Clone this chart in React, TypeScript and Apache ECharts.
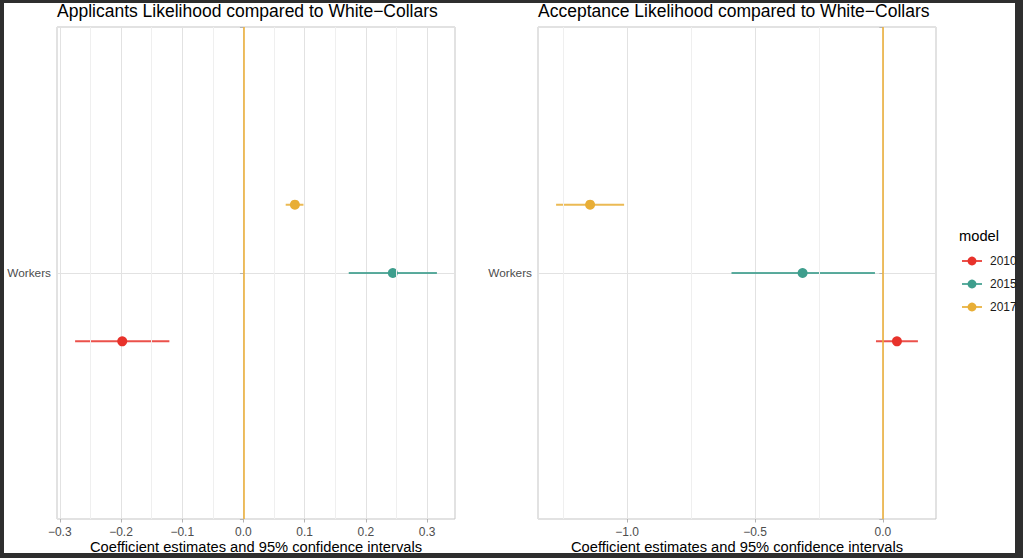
import React, { useEffect, useRef } from 'react';
import * as echarts from 'echarts';

const MODELS = ['2010', '2015', '2017'];
const POINT_COLORS = ['#E8322B', '#3E9E8D', '#E8AE36'];
const CATEGORY = 'Workers';

// Applicants panel: estimates and 95% CI bounds per model
const APP_EST = [-0.198, 0.244, 0.084];
const APP_LO = [-0.275, 0.172, 0.069];
const APP_HI = [-0.121, 0.316, 0.098];

// Acceptance panel
const ACC_EST = [0.055, -0.314, -1.145];
const ACC_LO = [-0.027, -0.592, -1.278];
const ACC_HI = [0.137, -0.031, -1.012];

// minor grid breaks
const APP_MINOR = [-0.25, -0.15, -0.05, 0.05, 0.15, 0.25];
const ACC_MINOR = [-1.25, -0.75, -0.25];

const TITLES = [
  'Applicants Likelihood compared to White\u2212Collars',
  'Acceptance Likelihood compared to White\u2212Collars',
];
const X_TITLE = 'Coefficient estimates and 95% confidence intervals';
const LEGEND_TITLE = 'model';

const FONT = '"Liberation Sans", Arial, Helvetica, sans-serif';
const DODGE = 0.5;
const Y_CENTER = 0.6;

function expand(lo: number[], hi: number[]) {
  const a = Math.min(...lo);
  const b = Math.max(...hi);
  const pad = (b - a) * 0.05;
  return [a - pad, b + pad];
}

const fmt = (v: number) => (v < -1e-9 ? '\u2212' : '') + Math.abs(v).toFixed(1);

function panelAxes(idx: number, lo: number[], hi: number[], splitNumber: number) {
  const [mn, mx] = expand(lo, hi);
  const x = {
    type: 'value',
    gridIndex: idx,
    min: mn,
    max: mx,
    splitNumber,
    axisLine: { show: false },
    axisTick: { show: true, length: 3.5, lineStyle: { color: '#b3b3b3', width: 1 } },
    axisLabel: {
      showMinLabel: false,
      showMaxLabel: false,
      formatter: fmt,
      color: '#4d4d4d',
      fontSize: 12,
      fontFamily: FONT,
      margin: 7,
    },
    splitLine: { show: true, lineStyle: { color: '#e2e2e2', width: 1 } },
    name: X_TITLE,
    nameLocation: 'middle',
    nameGap: 20,
    nameMoveOverlap: false,
    nameTextStyle: { fontSize: 14.7, color: '#000', fontFamily: FONT },
  };
  const y = {
    type: 'value',
    gridIndex: idx,
    min: 0,
    max: 1.2,
    interval: 0.6,
    axisLine: { show: false },
    axisTick: { show: true, length: 3.5, lineStyle: { color: '#b3b3b3', width: 1 } },
    axisLabel: {
      formatter: (v: number) => (Math.abs(v - Y_CENTER) < 1e-9 ? CATEGORY : ''),
      color: '#4d4d4d',
      fontSize: 11.8,
      fontFamily: FONT,
      margin: 6,
    },
    splitLine: { show: true, lineStyle: { color: '#e2e2e2', width: 1 } },
  };
  return { x, y };
}

function panelSeries(idx: number, est: number[], lo: number[], hi: number[], minor: number[]) {
  const series: any[] = [];
  series.push({
    type: 'line',
    name: 'minor-grid-' + idx,
    xAxisIndex: idx,
    yAxisIndex: idx,
    data: [],
    silent: true,
    z: 1,
    markLine: {
      silent: true,
      symbol: ['none', 'none'],
      label: { show: false },
      lineStyle: { color: '#efefef', width: 1, type: 'solid' },
      emphasis: { disabled: true },
      data: minor.map((v) => ({ xAxis: v })),
    },
  });
  MODELS.forEach((m, i) => {
    const yv = Y_CENTER + (i - 1) * (DODGE / 3);
    series.push({
      type: 'line',
      name: m,
      xAxisIndex: idx,
      yAxisIndex: idx,
      data: [
        [lo[i], yv],
        [est[i], yv],
        [hi[i], yv],
      ],
      symbol: 'circle',
      symbolSize: (_v: any, p: any) => (p.dataIndex === 1 ? 10 : 0),
      showAllSymbol: true,
      color: POINT_COLORS[i],
      itemStyle: { color: POINT_COLORS[i], borderWidth: 0 },
      lineStyle: { color: POINT_COLORS[i], width: 2, opacity: 0.85 },
      emphasis: { disabled: true },
      z: 3,
    });
  });
  series.push({
    type: 'line',
    name: 'zero-' + idx,
    xAxisIndex: idx,
    yAxisIndex: idx,
    data: [],
    silent: true,
    z: 5,
    markLine: {
      silent: true,
      symbol: ['none', 'none'],
      label: { show: false },
      lineStyle: { color: '#ECB03C', width: 1.6, type: 'solid' },
      emphasis: { disabled: true },
      data: [{ xAxis: 0 }],
    },
  });
  return series;
}

export default function App() {
  const ref = useRef<HTMLDivElement>(null);

  useEffect(() => {
    if (!ref.current) return;
    const chart = echarts.init(ref.current, undefined, { renderer: 'svg' });
    const a = panelAxes(0, APP_LO, APP_HI, 6);
    const b = panelAxes(1, ACC_LO, ACC_HI, 3);
    const gridBase = {
      top: 27,
      width: 398,
      height: 492,
      show: true,
      borderColor: '#c4c4c4',
      borderWidth: 1,
      backgroundColor: 'transparent',
      containLabel: false,
      outerBoundsMode: 'none',
    };
    const option: any = {
      animation: false,
      textStyle: { fontFamily: FONT },
      title: [
        {
          text: TITLES[0],
          left: 57,
          top: 2,
          padding: 0,
          textStyle: { fontSize: 17.5, fontWeight: 'normal', color: '#000', fontFamily: FONT },
        },
        {
          text: TITLES[1],
          left: 538,
          top: 2,
          padding: 0,
          textStyle: { fontSize: 17.5, fontWeight: 'normal', color: '#000', fontFamily: FONT },
        },
      ],
      grid: [
        { ...gridBase, left: 57 },
        { ...gridBase, left: 538 },
      ],
      xAxis: [a.x, b.x],
      yAxis: [a.y, b.y],
      legend: {
        data: MODELS,
        orient: 'vertical',
        left: 961,
        top: 255,
        itemWidth: 20,
        itemHeight: 11,
        itemGap: 11,
        selectedMode: false,
        padding: 0,
        textStyle: { fontSize: 12, color: '#1a1a1a', fontFamily: FONT, padding: [0, 0, 0, 3] },
      },
      graphic: [
        {
          type: 'text',
          left: 959,
          top: 228,
          silent: true,
          style: { text: LEGEND_TITLE, fontSize: 14.7, fill: '#000', fontFamily: FONT },
        },
      ],
      series: [
        ...panelSeries(0, APP_EST, APP_LO, APP_HI, APP_MINOR),
        ...panelSeries(1, ACC_EST, ACC_LO, ACC_HI, ACC_MINOR),
      ],
    };
    chart.setOption(option);
    return () => chart.dispose();
  }, []);

  return (
    <div style={{ position: 'absolute', left: 0, top: 0, width: 1023, height: 558, background: '#2e2e2e' }}>
      <div style={{ position: 'absolute', left: 4, top: 3, width: 1011, height: 550, background: '#ffffff' }} />
      <div ref={ref} style={{ position: 'absolute', left: 0, top: 0, width: 1023, height: 558 }} />
    </div>
  );
}
